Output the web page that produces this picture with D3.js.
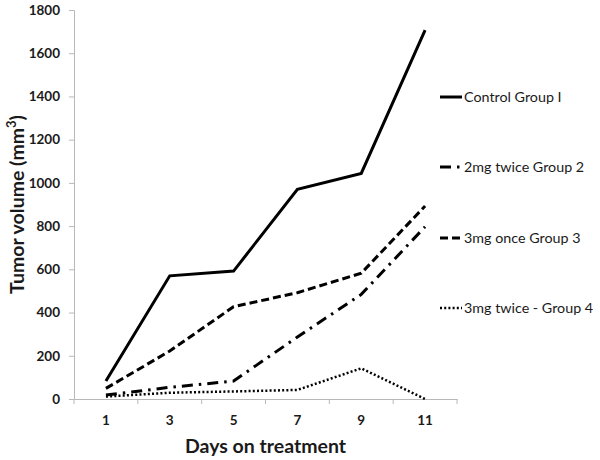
<!DOCTYPE html>
<html>
<head>
<meta charset="utf-8">
<script src="https://cdn.jsdelivr.net/npm/d3@7"></script>
<style>
  html, body { margin: 0; padding: 0; background: #fff; }
  svg { display: block; }
</style>
</head>
<body>
<svg id="chart" width="600" height="460"></svg>
<script>
const days = ["1", "3", "5", "7", "9", "11"];
const yTicks = [0, 200, 400, 600, 800, 1000, 1200, 1400, 1600, 1800];
const control = [83, 570, 592, 970, 1044, 1707];
const mg2Twice = [18, 54, 83, 287, 484, 797];
const mg3Once = [49, 222, 427, 492, 582, 893];
const mg3Twice = [11, 29, 35, 42, 142, 0];
const seriesNames = ["Control Group I", "2mg twice Group 2", "3mg once Group 3", "3mg twice - Group 4"];

(function () {
const series = [
  { name: seriesNames[0], values: control, dash: null, width: 3 },
  { name: seriesNames[1], values: mg2Twice, dash: "11,6,2.5,6", width: 3 },
  { name: seriesNames[2], values: mg3Once, dash: "8,4", width: 3 },
  { name: seriesNames[3], values: mg3Twice, dash: "2,2.2", width: 2.5 }
];

const svg = d3.select("#chart");
const mLeft = 74, mRight = 457, mTop = 10, mBottom = 399;
const axisColor = "#b8b8b8";
const textFont = "Lato, 'Open Sans', sans-serif";

const x = d3.scaleBand().domain(days).range([mLeft, mRight]).padding(0);
const y = d3.scaleLinear().domain([0, 1800]).range([mBottom, mTop]);

// Y axis
const yAxis = svg.append("g").attr("transform", `translate(${mLeft},0)`)
  .call(d3.axisLeft(y).tickValues(yTicks).tickFormat(d3.format("d")).tickSize(5).tickPadding(9));
yAxis.select(".domain").attr("stroke", axisColor).attr("stroke-width", 1);
yAxis.selectAll(".tick line").attr("stroke", axisColor);
yAxis.selectAll(".tick text").attr("fill", "#1a1a1a")
  .style("font-family", textFont).style("font-size", "13.5px").style("font-weight", "bold");

// X axis
const xAxis = svg.append("g").attr("transform", `translate(0,${mBottom})`)
  .call(d3.axisBottom(x).tickSize(0).tickPadding(16).tickSizeOuter(0));
xAxis.select(".domain").attr("stroke", axisColor).attr("stroke-width", 1);
xAxis.selectAll(".tick text").attr("fill", "#1a1a1a")
  .style("font-family", textFont).style("font-size", "13.5px").style("font-weight", "bold");
const boundaries = days.map(d => x(d)).concat([x(days[days.length - 1]) + x.bandwidth()]);
xAxis.selectAll(".bound").data(boundaries).enter().append("line")
  .attr("x1", d => d).attr("x2", d => d).attr("y1", 0).attr("y2", 5)
  .attr("stroke", axisColor);

// Lines
const line = d3.line().x((d, i) => x(days[i]) + x.bandwidth() / 2).y(d => y(d));
series.forEach(s => {
  svg.append("path").datum(s.values)
    .attr("d", line)
    .attr("fill", "none")
    .attr("stroke", "#000")
    .attr("stroke-width", s.width)
    .attr("stroke-linejoin", "miter")
    .attr("stroke-dasharray", s.dash);
});

// Legend
const legendY = [97, 167, 238, 308];
series.forEach((s, i) => {
  const g = svg.append("g").attr("transform", `translate(440,${legendY[i]})`);
  g.append("line").attr("x1", 0).attr("x2", 22).attr("y1", 0).attr("y2", 0)
    .attr("stroke", "#000").attr("stroke-width", s.width)
    .attr("stroke-dasharray", s.dash);
  g.append("text").attr("x", 24).attr("y", 0).attr("dy", "0.35em")
    .attr("fill", "#1a1a1a")
    .style("font-family", textFont).style("font-size", "14.3px")
    .text(s.name);
});

// Axis titles
svg.append("text")
  .attr("transform", `translate(17,${(mTop + mBottom) / 2}) rotate(-90)`)
  .attr("text-anchor", "middle")
  .attr("dy", "0.35em")
  .attr("fill", "#1a1a1a")
  .style("font-family", textFont).style("font-size", "19.5px").style("font-weight", "bold")
  .html("Tumor volume (mm<tspan dy='-8' font-size='13px'>3</tspan><tspan dy='8'>)</tspan>");

svg.append("text")
  .attr("x", (mLeft + mRight) / 2).attr("y", 446)
  .attr("text-anchor", "middle")
  .attr("dy", "0.35em")
  .attr("fill", "#1a1a1a")
  .style("font-family", textFont).style("font-size", "19.5px").style("font-weight", "bold")
  .text("Days on treatment");
})();
</script>
</body>
</html>
